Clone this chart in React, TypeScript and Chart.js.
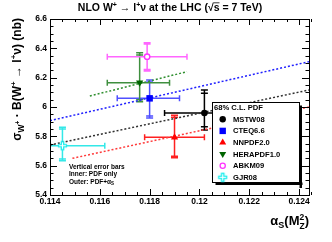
import React, { useEffect, useRef } from "react";
import { Chart, registerables } from "chart.js";

Chart.register(...registerables);

// ---------- data ----------
const pdfNames = ["MSTW08", "CTEQ6.6", "NNPDF2.0", "HERAPDF1.0", "ABKM09", "GJR08"];
const alphaS = [0.1202, 0.118, 0.119, 0.1176, 0.1179, 0.1145];
const alphaLo = [0.1186, 0.1167, 0.1178, 0.1163, 0.1163, 0.1128];
const alphaHi = [0.1214, 0.1192, 0.1202, 0.1188, 0.1195, 0.1162];
const sigma = [5.959, 6.059, 5.793, 6.166, 6.343, 5.736];
const sigmaInnerLo = [5.866, 5.939, 5.665, 6.05, 6.255, 5.645];
const sigmaInnerHi = [6.093, 6.17, 5.93, 6.355, 6.43, 5.85];
const sigmaOuterLo = [5.843, 5.925, 5.654, 6.036, 6.245, 5.634];
const sigmaOuterHi = [6.116, 6.184, 5.943, 6.37, 6.438, 5.862];

// alpha_s dependence lines
const lineNames = ["MSTW08", "CTEQ6.6", "NNPDF2.0", "HERAPDF1.0"];
const lineAlphaFrom = [0.114, 0.114, 0.1149, 0.1156];
const lineAlphaTo = [0.1244, 0.1244, 0.1244, 0.1195];
const lineSigmaFrom = [5.741, 5.907, 5.65, 6.075];
const lineSigmaTo = [6.116, 6.309, 6.0, 6.241];

const xTicks = [0.114, 0.116, 0.118, 0.12, 0.122, 0.124];
const yTicks = [5.4, 5.6, 5.8, 6, 6.2, 6.4, 6.6];
const xMin = 0.114;
const xMax = 0.1244;
const yMin = 5.4;
const yMax = 6.6;
const xMinorStep = 0.0005;
const yMinorStep = 0.05;

const legendHeader = "68% C.L. PDF";
const noteLines = ["Vertical error bars", "Inner: PDF only", "Outer: PDF+"];

// ---------- styles ----------
const FONT = '"Liberation Sans", Arial, Helvetica, sans-serif';
const markerColors = ["#000000", "#0000ff", "#ff0000", "#006400", "#ff33ff", "#22eeee"];
const barColors = ["#000000", "#5050ff", "#ff2020", "#3f8f3f", "#ff66ff", "#33e8e8"];
const lineColors = ["#303030", "#2020ff", "#ff3a3a", "#2f8f2f"];
const markerKinds = ["circle", "square", "triUp", "triDown", "openCircle", "openCross"];

type Run = { t: string; s: number; dy?: number; adv?: boolean; over?: boolean };

function runsWidth(ctx: CanvasRenderingContext2D, runs: Run[]) {
  let w = 0;
  for (const r of runs) {
    ctx.font = `bold ${r.s}px ${FONT}`;
    if (r.adv !== false) w += ctx.measureText(r.t).width;
  }
  return w;
}

function drawRuns(ctx: CanvasRenderingContext2D, runs: Run[], x: number, y: number) {
  let cx = x;
  for (const r of runs) {
    ctx.font = `bold ${r.s}px ${FONT}`;
    const m = ctx.measureText(r.t).width;
    ctx.fillText(r.t, cx, y + (r.dy || 0));
    if (r.over) {
      ctx.save();
      ctx.lineWidth = 0.8;
      ctx.beginPath();
      ctx.moveTo(cx, y + (r.dy || 0) - r.s * 0.78);
      ctx.lineTo(cx + m, y + (r.dy || 0) - r.s * 0.78);
      ctx.stroke();
      ctx.restore();
    }
    if (r.adv !== false) cx += m;
  }
}

function makeCross(color: string) {
  const c = document.createElement("canvas");
  c.width = 11;
  c.height = 11;
  const g = c.getContext("2d")!;
  const a = 1.5, b = 4.3, d = 6.7, e = 9.5;
  g.beginPath();
  g.moveTo(b, a); g.lineTo(d, a); g.lineTo(d, b); g.lineTo(e, b); g.lineTo(e, d);
  g.lineTo(d, d); g.lineTo(d, e); g.lineTo(b, e); g.lineTo(b, d); g.lineTo(a, d);
  g.lineTo(a, b); g.lineTo(b, b); g.closePath();
  g.fillStyle = "#ffffff";
  g.fill();
  g.strokeStyle = color;
  g.lineWidth = 1.3;
  g.stroke();
  return c;
}

function drawMarker(ctx: CanvasRenderingContext2D, i: number, x: number, y: number, cross: HTMLCanvasElement) {
  ctx.save();
  ctx.fillStyle = markerColors[i];
  ctx.strokeStyle = markerColors[i];
  ctx.lineWidth = 1.3;
  const k = markerKinds[i];
  ctx.beginPath();
  if (k === "circle") {
    ctx.arc(x, y, 3.2, 0, Math.PI * 2);
    ctx.fill();
  } else if (k === "square") {
    ctx.fillRect(x - 3.2, y - 3.2, 6.4, 6.4);
  } else if (k === "triUp") {
    ctx.moveTo(x, y - 4);
    ctx.lineTo(x + 3.5, y + 2);
    ctx.lineTo(x - 3.5, y + 2);
    ctx.closePath();
    ctx.fill();
  } else if (k === "triDown") {
    ctx.moveTo(x, y + 4);
    ctx.lineTo(x + 3.5, y - 2);
    ctx.lineTo(x - 3.5, y - 2);
    ctx.closePath();
    ctx.fill();
  } else if (k === "openCircle") {
    ctx.arc(x, y, 2.6, 0, Math.PI * 2);
    ctx.stroke();
  } else {
    ctx.drawImage(cross, x - cross.width / 2, y - cross.height / 2);
  }
  ctx.restore();
}

export default function App() {
  const ref = useRef<HTMLCanvasElement>(null);

  useEffect(() => {
    const canvas = ref.current;
    if (!canvas) return;
    const cross = makeCross(markerColors[5]);

    const pointStyles: any[] = ["circle", "rect", "triangle", "triangle", "circle", cross];
    const pointRadius = [3.3, 4.6, 4.2, 4.2, 2.7, 5];
    const pointRotation = [0, 0, 0, 180, 0, 0];
    const pointFill = [markerColors[0], markerColors[1], markerColors[2], markerColors[3], "#ffffff", markerColors[5]];
    const pointBorder = [0, 0, 0, 0, 1.4, 0];

    const lineSets = lineNames.map((n, i) => ({
      label: n + " alpha_s",
      data: [
        { x: lineAlphaFrom[i], y: lineSigmaFrom[i] },
        { x: lineAlphaTo[i], y: lineSigmaTo[i] },
      ],
      showLine: true,
      borderColor: lineColors[i],
      borderWidth: 1.5,
      borderDash: [2, 2],
      pointRadius: 0,
      fill: false,
      order: 3,
    }));

    const pointSets = pdfNames.map((n, i) => ({
      label: n,
      data: [{ x: alphaS[i], y: sigma[i] }],
      showLine: false,
      pointStyle: pointStyles[i],
      pointRadius: pointRadius[i],
      pointRotation: pointRotation[i],
      backgroundColor: pointFill[i],
      borderColor: markerColors[i],
      borderWidth: pointBorder[i],
      order: 1,
    }));

    const errorBars = {
      id: "errorBars",
      beforeDatasetsDraw(chart: any) {
        const { ctx, chartArea: a, scales } = chart;
        const xs = scales.x, ys = scales.y;
        ctx.save();
        ctx.beginPath();
        ctx.rect(a.left, a.top, a.right - a.left, a.bottom - a.top);
        ctx.clip();
        ctx.lineWidth = 1.5;
        for (let i = 0; i < pdfNames.length; i++) {
          const px = xs.getPixelForValue(alphaS[i]);
          const py = ys.getPixelForValue(sigma[i]);
          const xl = xs.getPixelForValue(alphaLo[i]);
          const xr = xs.getPixelForValue(alphaHi[i]);
          ctx.strokeStyle = barColors[i];
          ctx.beginPath();
          ctx.moveTo(xl, py); ctx.lineTo(xr, py);
          ctx.moveTo(xl, py - 3); ctx.lineTo(xl, py + 3);
          ctx.moveTo(xr, py - 3); ctx.lineTo(xr, py + 3);
          const yo1 = ys.getPixelForValue(sigmaOuterLo[i]);
          const yo2 = ys.getPixelForValue(sigmaOuterHi[i]);
          const yi1 = ys.getPixelForValue(sigmaInnerLo[i]);
          const yi2 = ys.getPixelForValue(sigmaInnerHi[i]);
          ctx.moveTo(px, yo1); ctx.lineTo(px, yo2);
          for (const yy of [yo1, yo2, yi1, yi2]) {
            ctx.moveTo(px - 3.5, yy); ctx.lineTo(px + 3.5, yy);
          }
          ctx.stroke();
        }
        ctx.restore();
      },
    };

    const decorations = {
      id: "decorations",
      afterDraw(chart: any) {
        const { ctx, chartArea: a, scales } = chart;
        const xs = scales.x, ys = scales.y;
        ctx.save();
        ctx.strokeStyle = "#000";
        ctx.fillStyle = "#000";
        ctx.lineWidth = 1;
        // ticks (inside)
        ctx.beginPath();
        const nx = Math.round((xMax - xMin) / xMinorStep);
        for (let k = 0; k <= nx; k++) {
          const v = xMin + k * xMinorStep;
          const major = xTicks.some((t) => Math.abs(t - v) < 1e-7);
          const len = major ? 6 : 3;
          const p = Math.round(xs.getPixelForValue(v)) + 0.5;
          ctx.moveTo(p, a.bottom); ctx.lineTo(p, a.bottom - len);
          ctx.moveTo(p, a.top); ctx.lineTo(p, a.top + len);
        }
        const ny = Math.round((yMax - yMin) / yMinorStep);
        for (let k = 0; k <= ny; k++) {
          const v = yMin + k * yMinorStep;
          const major = yTicks.some((t) => Math.abs(t - v) < 1e-7);
          const len = major ? 7 : 3.5;
          const p = Math.round(ys.getPixelForValue(v)) + 0.5;
          ctx.moveTo(a.left, p); ctx.lineTo(a.left + len, p);
          ctx.moveTo(a.right, p); ctx.lineTo(a.right - len, p);
        }
        ctx.stroke();
        // frame
        ctx.strokeRect(Math.round(a.left) + 0.5, Math.round(a.top) + 0.5, Math.round(a.right - a.left), Math.round(a.bottom - a.top));

        // title
        const titleRuns: Run[] = [
          { t: "NLO W", s: 10.5 },
          { t: "+", s: 7, dy: -4 },
          { t: " \u2192 l", s: 10.5 },
          { t: "+", s: 7, dy: -4 },
          { t: "\u03bd at the LHC (\u221a", s: 10.5 },
          { t: "s", s: 10.5, over: true },
          { t: " = 7 TeV)", s: 10.5 },
        ];
        ctx.textBaseline = "alphabetic";
        ctx.textAlign = "left";
        const tw = runsWidth(ctx, titleRuns);
        drawRuns(ctx, titleRuns, 170 - tw / 2, 11);

        // x title
        const xRuns: Run[] = [
          { t: "\u03b1", s: 13 },
          { t: "S", s: 9, dy: 3 },
          { t: "(M", s: 13 },
          { t: "2", s: 8.5, dy: -5, adv: false },
          { t: "Z", s: 8.5, dy: 4 },
          { t: ")", s: 13 },
        ];
        const xw = runsWidth(ctx, xRuns);
        drawRuns(ctx, xRuns, a.right - xw, 225);

        // y title (rotated)
        const yRuns: Run[] = [
          { t: "\u03c3", s: 12 },
          { t: "W", s: 8.5, dy: 3 },
          { t: "+", s: 6.5, dy: -1 },
          { t: " \u00b7 B(W", s: 12 },
          { t: "+", s: 8, dy: -5 },
          { t: " \u2192 l", s: 12 },
          { t: "+", s: 8, dy: -5 },
          { t: "\u03bd) (nb)", s: 12 },
        ];
        const yw = runsWidth(ctx, yRuns);
        ctx.save();
        ctx.translate(20.5, 18);
        ctx.rotate(-Math.PI / 2);
        drawRuns(ctx, yRuns, -yw, 0);
        ctx.restore();

        // note text
        ctx.font = `bold 6.5px ${FONT}`;
        ctx.textBaseline = "middle";
        ctx.fillText(noteLines[0], 69, 167);
        ctx.fillText(noteLines[1], 69, 174.5);
        const w3 = ctx.measureText(noteLines[2]).width;
        ctx.fillText(noteLines[2], 69, 182);
        ctx.fillText("\u03b1", 69 + w3, 182);
        const wa = ctx.measureText("\u03b1").width;
        ctx.font = `bold 4.5px ${FONT}`;
        ctx.fillText("S", 69 + w3 + wa, 184);

        // legend
        const lx = 212.5, ly = 102.5, lw = 87, lh = 80;
        ctx.fillStyle = "#fff";
        ctx.fillRect(lx, ly, lw, lh);
        ctx.fillStyle = "#000";
        ctx.fillRect(lx + lw, ly + 3, 2.5, lh + 2.5);
        ctx.fillRect(lx + 3, ly + lh, lw, 2.5);
        ctx.strokeRect(lx, ly, lw, lh);
        ctx.font = `bold 7.6px ${FONT}`;
        ctx.textBaseline = "middle";
        ctx.fillText(legendHeader, lx + 1.5, 107.5);
        for (let i = 0; i < pdfNames.length; i++) {
          const yy = 119.3 + i * 11.6;
          drawMarker(ctx, i, 222.7, yy, cross);
          ctx.fillStyle = "#000";
          ctx.font = `bold 7.6px ${FONT}`;
          ctx.fillText(pdfNames[i], 233, yy + 0.5);
        }
        ctx.restore();
      },
    };

    const tickFont = { family: FONT, size: 8.5, weight: "bold" as const };

    const chart = new Chart(canvas, {
      type: "scatter",
      data: { datasets: [...lineSets, ...pointSets] as any },
      options: {
        animation: false,
        responsive: false,
        devicePixelRatio: 1,
        layout: { padding: { top: 19, right: 23, left: 0, bottom: 0 } },
        plugins: { legend: { display: false }, tooltip: { enabled: false }, title: { display: false } },
        scales: {
          x: {
            type: "linear",
            min: xMin,
            max: xMax,
            afterBuildTicks: (s: any) => {
              s.ticks = xTicks.map((v) => ({ value: v }));
            },
            afterFit: (s: any) => {
              s.height = 47;
            },
            grid: { display: false, drawTicks: false },
            border: { display: false },
            ticks: {
              font: tickFont,
              color: "#000",
              padding: 2,
              maxRotation: 0,
              autoSkip: false,
              callback: (v: any) => String(parseFloat(Number(v).toFixed(4))),
            },
          },
          y: {
            type: "linear",
            min: yMin,
            max: yMax,
            afterBuildTicks: (s: any) => {
              s.ticks = yTicks.map((v) => ({ value: v }));
            },
            afterFit: (s: any) => {
              s.width = 50;
            },
            grid: { display: false, drawTicks: false },
            border: { display: false },
            ticks: {
              font: tickFont,
              color: "#000",
              padding: 3,
              autoSkip: false,
              callback: (v: any) => String(parseFloat(Number(v).toFixed(2))),
            },
          },
        },
      },
      plugins: [errorBars, decorations],
    });
    return () => chart.destroy();
  }, []);

  return (
    <div style={{ position: "absolute", left: 0, top: 0, width: 332, height: 242, background: "#fff" }}>
      <canvas ref={ref} width={332} height={242} style={{ display: "block" }} />
    </div>
  );
}
